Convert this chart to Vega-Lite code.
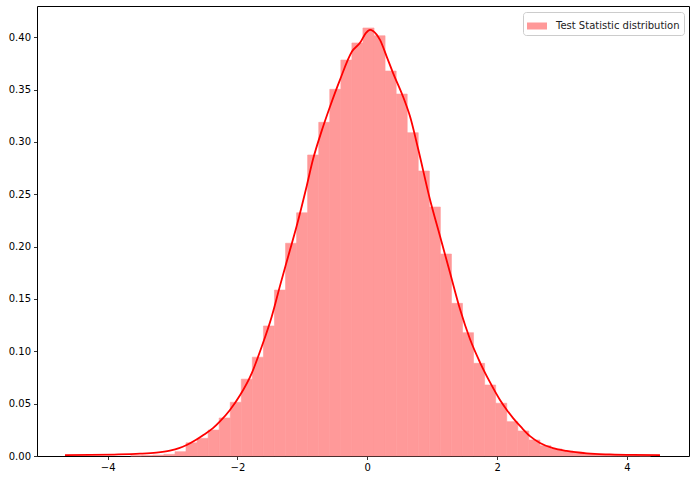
{
  "$schema": "https://vega.github.io/schema/vega-lite/v6.json",
  "width": 652,
  "height": 450,
  "autosize": {"type": "none"},
  "padding": {"left": 37, "top": 6, "right": 7, "bottom": 24},
  "background": "white",
  "config": {
    "view": {"stroke": "#000", "strokeWidth": 1},
    "font": "DejaVu Sans",
    "axis": {
      "grid": false,
      "domain": false,
      "tickColor": "#000",
      "tickSize": 3.5,
      "tickWidth": 0.8,
      "labelFont": "DejaVu Sans",
      "labelFontSize": 10,
      "labelColor": "#000",
      "labelPadding": 3,
      "title": null
    }
  },
  "datasets": {
    "bins": [
      {"x0": -3.645, "x1": -3.475, "density": 0.0003},
      {"x0": -3.475, "x1": -3.304, "density": 0.0005},
      {"x0": -3.304, "x1": -3.134, "density": 0.0009},
      {"x0": -3.134, "x1": -2.963, "density": 0.0016},
      {"x0": -2.963, "x1": -2.793, "density": 0.0041},
      {"x0": -2.793, "x1": -2.623, "density": 0.0126},
      {"x0": -2.623, "x1": -2.452, "density": 0.0169},
      {"x0": -2.452, "x1": -2.282, "density": 0.0248},
      {"x0": -2.282, "x1": -2.111, "density": 0.0363},
      {"x0": -2.111, "x1": -1.941, "density": 0.0513},
      {"x0": -1.941, "x1": -1.771, "density": 0.0734},
      {"x0": -1.771, "x1": -1.600, "density": 0.0944},
      {"x0": -1.600, "x1": -1.430, "density": 0.1242},
      {"x0": -1.430, "x1": -1.259, "density": 0.1585},
      {"x0": -1.259, "x1": -1.089, "density": 0.2032},
      {"x0": -1.089, "x1": -0.919, "density": 0.2323},
      {"x0": -0.919, "x1": -0.748, "density": 0.2875},
      {"x0": -0.748, "x1": -0.578, "density": 0.3187},
      {"x0": -0.578, "x1": -0.407, "density": 0.3502},
      {"x0": -0.407, "x1": -0.237, "density": 0.3782},
      {"x0": -0.237, "x1": -0.067, "density": 0.3945},
      {"x0": -0.067, "x1": 0.104, "density": 0.4088},
      {"x0": 0.104, "x1": 0.274, "density": 0.4014},
      {"x0": 0.274, "x1": 0.445, "density": 0.3677},
      {"x0": 0.445, "x1": 0.615, "density": 0.3457},
      {"x0": 0.615, "x1": 0.785, "density": 0.3088},
      {"x0": 0.785, "x1": 0.956, "density": 0.2722},
      {"x0": 0.956, "x1": 1.126, "density": 0.2378},
      {"x0": 1.126, "x1": 1.297, "density": 0.1929},
      {"x0": 1.297, "x1": 1.467, "density": 0.1458},
      {"x0": 1.467, "x1": 1.637, "density": 0.1178},
      {"x0": 1.637, "x1": 1.808, "density": 0.0885},
      {"x0": 1.808, "x1": 1.978, "density": 0.0678},
      {"x0": 1.978, "x1": 2.149, "density": 0.0504},
      {"x0": 2.149, "x1": 2.319, "density": 0.0328},
      {"x0": 2.319, "x1": 2.489, "density": 0.0239},
      {"x0": 2.489, "x1": 2.660, "density": 0.0153},
      {"x0": 2.660, "x1": 2.830, "density": 0.0098},
      {"x0": 2.830, "x1": 3.001, "density": 0.0067},
      {"x0": 3.001, "x1": 3.171, "density": 0.0048},
      {"x0": 3.171, "x1": 3.341, "density": 0.0035},
      {"x0": 3.341, "x1": 3.512, "density": 0.0025},
      {"x0": 3.512, "x1": 3.682, "density": 0.0015},
      {"x0": 3.682, "x1": 3.853, "density": 0.0010},
      {"x0": 3.853, "x1": 4.023, "density": 0.0007},
      {"x0": 4.023, "x1": 4.193, "density": 0.0005},
      {"x0": 4.193, "x1": 4.364, "density": 0.0003}
    ],
    "kde": [
      {"x": -4.658, "y": 0.0008},
      {"x": -4.273, "y": 0.0010},
      {"x": -3.900, "y": 0.0014},
      {"x": -3.503, "y": 0.0022},
      {"x": -3.250, "y": 0.0033},
      {"x": -3.041, "y": 0.0052},
      {"x": -2.900, "y": 0.0075},
      {"x": -2.783, "y": 0.0105},
      {"x": -2.650, "y": 0.0150},
      {"x": -2.527, "y": 0.0200},
      {"x": -2.373, "y": 0.0268},
      {"x": -2.270, "y": 0.0330},
      {"x": -2.116, "y": 0.0440},
      {"x": -1.961, "y": 0.0580},
      {"x": -1.781, "y": 0.0790},
      {"x": -1.627, "y": 0.1043},
      {"x": -1.473, "y": 0.1330},
      {"x": -1.345, "y": 0.1625},
      {"x": -1.217, "y": 0.1910},
      {"x": -1.088, "y": 0.2196},
      {"x": -0.934, "y": 0.2577},
      {"x": -0.837, "y": 0.2831},
      {"x": -0.700, "y": 0.3110},
      {"x": -0.575, "y": 0.3336},
      {"x": -0.421, "y": 0.3593},
      {"x": -0.236, "y": 0.3863},
      {"x": -0.112, "y": 0.3946},
      {"x": -0.020, "y": 0.4041},
      {"x": 0.042, "y": 0.4070},
      {"x": 0.088, "y": 0.4060},
      {"x": 0.196, "y": 0.3974},
      {"x": 0.299, "y": 0.3815},
      {"x": 0.396, "y": 0.3660},
      {"x": 0.550, "y": 0.3434},
      {"x": 0.658, "y": 0.3244},
      {"x": 0.786, "y": 0.2927},
      {"x": 0.966, "y": 0.2450},
      {"x": 1.120, "y": 0.2101},
      {"x": 1.274, "y": 0.1752},
      {"x": 1.428, "y": 0.1403},
      {"x": 1.582, "y": 0.1117},
      {"x": 1.736, "y": 0.0895},
      {"x": 1.890, "y": 0.0705},
      {"x": 2.045, "y": 0.0535},
      {"x": 2.150, "y": 0.0440},
      {"x": 2.250, "y": 0.0360},
      {"x": 2.379, "y": 0.0270},
      {"x": 2.507, "y": 0.0190},
      {"x": 2.661, "y": 0.0125},
      {"x": 2.861, "y": 0.0075},
      {"x": 3.072, "y": 0.0048},
      {"x": 3.381, "y": 0.0025},
      {"x": 3.740, "y": 0.0015},
      {"x": 4.100, "y": 0.0010},
      {"x": 4.510, "y": 0.0008}
    ]
  },
  "layer": [
    {
      "data": {"name": "bins"},
      "transform": [{"calculate": "'Test Statistic distribution'", "as": "series"}],
      "mark": {"type": "rect", "stroke": "#ff9999", "strokeWidth": 0.6},
      "encoding": {
        "x": {"field": "x0", "type": "quantitative", "scale": {"domain": [-5.089, 4.957], "nice": false, "zero": false}, "axis": {"values": [-4, -2, 0, 2, 4], "format": "d"}},
        "x2": {"field": "x1"},
        "y": {"field": "density", "type": "quantitative", "scale": {"domain": [0, 0.4298], "nice": false}, "axis": {"values": [0, 0.05, 0.1, 0.15, 0.2, 0.25, 0.3, 0.35, 0.4], "format": ".2f"}},
        "y2": {"datum": 0},
        "color": {
          "field": "series", "type": "nominal",
          "scale": {"range": ["#ff9999"]},
          "legend": {
            "title": null,
            "orient": "none",
            "legendX": 486,
            "legendY": 6,
            "padding": 4,
            "strokeColor": "#cccccc",
            "fillColor": "white",
            "cornerRadius": 3,
            "symbolType": "M-1,-0.35L1,-0.35L1,0.35L-1,0.35Z",
            "symbolSize": 400,
            "symbolStrokeWidth": 0,
            "symbolOpacity": 1,
            "labelFont": "DejaVu Sans",
            "labelFontSize": 10,
            "labelColor": "#222",
            "labelOffset": 9
          }
        }
      }
    },
    {
      "data": {"name": "kde"},
      "mark": {"type": "line", "color": "#ff0000", "strokeWidth": 1.8, "interpolate": "monotone"},
      "encoding": {
        "x": {"field": "x", "type": "quantitative"},
        "y": {"field": "y", "type": "quantitative"}
      }
    }
  ]
}
